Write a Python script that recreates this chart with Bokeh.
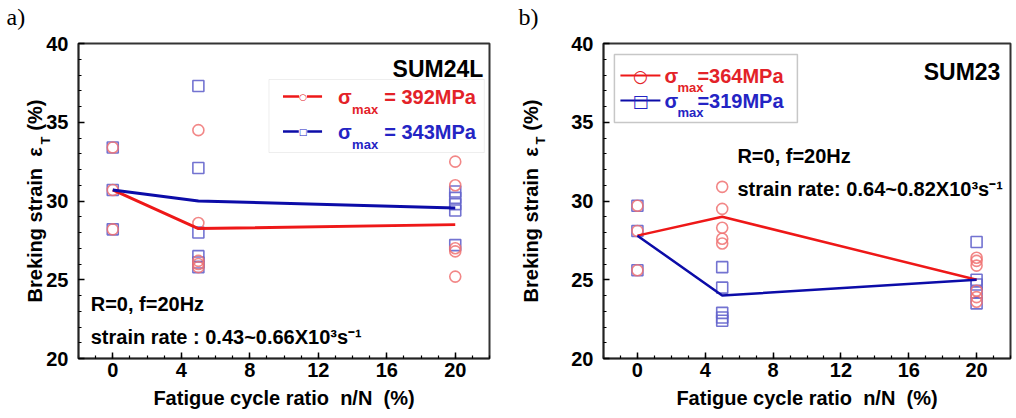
import math
from bokeh.plotting import figure
from bokeh.models import Label, BoxAnnotation, Arrow, Range1d, FixedTicker
from bokeh.layouts import row
from bokeh.embed import file_html
from bokeh.resources import INLINE

# ---------------- data ----------------
x_ticks = [0, 4, 8, 12, 16, 20]
y_ticks = [20, 25, 30, 35, 40]

# panel a) SUM24L
a_red_x = [0, 0, 0, 5, 5, 5, 5, 5, 20, 20, 20, 20, 20]
a_red_y = [33.4, 30.7, 28.2, 34.5, 28.6, 26.2, 26.0, 25.8, 32.5, 31.0, 27.0, 26.8, 25.2]
a_blue_x = [0, 0, 0, 5, 5, 5, 5, 5, 5, 20, 20, 20, 20, 20]
a_blue_y = [33.4, 30.7, 28.2, 37.3, 32.1, 28.0, 26.5, 26.1, 25.8, 30.6, 30.2, 29.8, 29.4, 27.2]
a_mean_x = [0, 5, 20]
a_red_mean = [30.7, 28.25, 28.5]
a_blue_mean = [30.7, 30.0, 29.55]

# panel b) SUM23
b_red_x = [0, 0, 0, 5, 5, 5, 5, 5, 20, 20, 20, 20, 20, 20]
b_red_y = [29.7, 28.1, 25.6, 30.9, 29.5, 28.3, 27.6, 27.3, 26.4, 26.2, 25.9, 24.3, 23.9, 23.6]
b_blue_x = [0, 0, 0, 5, 5, 5, 5, 5, 20, 20, 20, 20, 20]
b_blue_y = [29.7, 28.1, 25.6, 25.8, 24.5, 22.9, 22.6, 22.4, 27.4, 25.0, 24.7, 24.2, 23.5]
b_mean_x = [0, 5, 20]
b_red_mean = [27.8, 29.0, 25.0]
b_blue_mean = [27.8, 24.0, 25.0]

FONT = "Liberation Sans"
RED_LINE = "#ee1818"
BLUE_LINE = "#0c0ca8"
RED_MK = "#f07272"
BLUE_MK = "#6464cc"
RED_TXT = "#e32228"
BLUE_TXT = "#2424c4"
NB = "\u00a0"


def make_panel(width, left, right, ylab_standoff):
    p = figure(width=width, height=418, x_range=Range1d(-2, 22), y_range=Range1d(20, 40),
               min_border_left=left, min_border_right=right, min_border_top=43,
               min_border_bottom=60, output_backend="svg", toolbar_location=None)
    p.grid.visible = False
    p.outline_line_color = "#333333"
    p.outline_line_width = 2
    p.background_fill_color = "white"
    p.border_fill_color = "white"
    p.xaxis.ticker = FixedTicker(ticks=x_ticks, minor_ticks=list(range(-2, 23)))
    p.yaxis.ticker = FixedTicker(ticks=y_ticks, minor_ticks=list(range(20, 41)))
    for ax in (p.xaxis[0], p.yaxis[0]):
        ax.axis_line_width = 1.5
        ax.axis_line_color = "#222222"
        ax.major_tick_in = 6
        ax.major_tick_out = 0
        ax.minor_tick_in = 3
        ax.minor_tick_out = 0
        ax.major_tick_line_width = 1.5
        ax.minor_tick_line_width = 1.2
        ax.major_label_text_font = FONT
        ax.major_label_text_font_size = "20px"
        ax.major_label_text_font_style = "bold"
        ax.major_label_text_color = "black"
        ax.axis_label_text_font = FONT
        ax.axis_label_text_font_size = "20px"
        ax.axis_label_text_font_style = "bold"
        ax.axis_label_text_color = "black"
    p.yaxis.major_label_standoff = 10
    p.xaxis.major_label_standoff = 4
    p.xaxis.axis_label = f"Fatigue cycle ratio{NB}{NB}n/N{NB}{NB}(%)"
    p.xaxis.axis_label_standoff = 7
    p.yaxis.axis_label = f"Breking strain{NB}{NB}\u03b5{NB}{NB}{NB}(%)"
    p.yaxis.axis_label_standoff = ylab_standoff
    return p


def lab(p, x, y, text, size=20, color="black", align="left", baseline="middle",
        angle=0.0, font=FONT, style="bold", bg=None, units="data", place=None):
    kw = {}
    if bg is not None:
        kw["background_fill_color"] = bg
    lb = Label(x=x, y=y, x_units=units, y_units=units, text=text, text_font=font,
               text_font_size=f"{size}px", text_font_style=style, text_color=color,
               text_align=align, text_baseline=baseline, angle=angle, **kw)
    if place is None:
        p.add_layout(lb)
    else:
        p.add_layout(lb, place)


FRAME_TOP = 43


def outside(p, frame_left, px, py, text, **kw):
    # label placed in the (empty) panel above the frame: screen offsets from frame top-left
    lab(p, px - frame_left, FRAME_TOP - py, text, units="screen", place="above", **kw)


def draw_data(p, rx, ry, bx, by, mx, rm, bm, lw):
    p.scatter(bx, by, marker="square", size=11, fill_color=None, line_color=BLUE_MK,
              line_width=1.6, line_alpha=0.9)
    p.scatter(rx, ry, marker="circle", size=11, fill_color=None, line_color=RED_MK,
              line_width=1.6, line_alpha=0.85)
    p.line(mx, rm, line_color=RED_LINE, line_width=lw)
    p.line(mx, bm, line_color=BLUE_LINE, line_width=lw)


# ---------------- panel a ----------------
A_LEFT = 78
pa = make_panel(500, A_LEFT, 11, -3)
apx = lambda px: (px - 113.0) / 17.1
apy = lambda py: 40 - (py - 43.0) / 15.75

draw_data(pa, a_red_x, a_red_y, a_blue_x, a_blue_y, a_mean_x, a_red_mean, a_blue_mean, 3)

outside(pa, A_LEFT, 6, 16, "a)", size=24, font="Liberation Serif", style="normal")
# subscript T of the y-axis label (side panel, data units -> not clipped to the frame)
lab(pa, apx(46), apy(140), "T", size=13, angle=math.pi / 2, align="center", place="left")
lab(pa, apx(483), apy(68), "SUM24L", size=23, align="right")
pa.add_layout(BoxAnnotation(left=apx(269), right=apx(484), top=apy(79), bottom=apy(152),
                            fill_color="white", fill_alpha=1, line_color="#c8c8c8",
                            line_width=1))
for (ry, col, lcol, mk, txt) in [(96, RED_TXT, RED_LINE, "\u25cb", "= 392MPa"),
                                 (131, BLUE_TXT, BLUE_LINE, "\u25a1", "= 343MPa")]:
    pa.add_layout(Arrow(end=None, x_start=apx(283), y_start=apy(ry), x_end=apx(322),
                        y_end=apy(ry), line_color=lcol, line_width=2.5))
    lab(pa, apx(303), apy(ry), mk, size=9, color=col, align="center", font="DejaVu Sans",
        style="normal", bg="white")
    lab(pa, apx(338), apy(ry), "\u03c3", size=20, color=col)
    lab(pa, apx(352), apy(ry + 13), "max", size=13, color=col)
    lab(pa, apx(384), apy(ry), txt, size=20, color=col)

lab(pa, apx(91), apy(303), "R=0, f=20Hz", size=20)
lab(pa, apx(91), apy(336), "strain rate : 0.43~0.66X10\u00b3s\u207b\u00b9", size=20)

# ---------------- panel b ----------------
B_LEFT = 103
pb = make_panel(516, B_LEFT, 6, 26)
bpx = lambda px: (px - 637.0) / 16.96
bpy = lambda py: 40 - (py - 43.0) / 15.75

draw_data(pb, b_red_x, b_red_y, b_blue_x, b_blue_y, b_mean_x, b_red_mean, b_blue_mean, 2.5)

outside(pb, B_LEFT, 18, 16, "b)", size=24, font="Liberation Serif", style="normal")
lab(pb, bpx(540), bpy(140), "T", size=13, angle=math.pi / 2, align="center", place="left")
lab(pb, bpx(1000), bpy(71), "SUM23", size=23, align="right")
pb.add_layout(BoxAnnotation(left=bpx(614), right=bpx(797), top=bpy(54), bottom=bpy(122),
                            fill_color="white", fill_alpha=1, line_color="#444444",
                            line_width=1.5))
for (ry, col, lcol, mk, txt) in [(75, RED_TXT, RED_LINE, "\u25cb", "=364MPa"),
                                 (100, BLUE_TXT, BLUE_LINE, "\u25a1", "=319MPa")]:
    pb.add_layout(Arrow(end=None, x_start=bpx(620), y_start=bpy(ry), x_end=bpx(660),
                        y_end=bpy(ry), line_color=lcol, line_width=2))
    lab(pb, bpx(640), bpy(ry), mk, size=17, color=col, align="center", font="DejaVu Sans",
        style="normal")
    lab(pb, bpx(664), bpy(ry), "\u03c3", size=20, color=col)
    lab(pb, bpx(677), bpy(ry + 12), "max", size=13, color=col)
    lab(pb, bpx(697), bpy(ry), txt, size=20, color=col)

lab(pb, bpx(737), bpy(155), "R=0, f=20Hz", size=20)
lab(pb, bpx(737), bpy(188), "strain rate: 0.64~0.82X10\u00b3s\u207b\u00b9", size=20)

layout = row(pa, pb)
open("out.html", "w").write(file_html(layout, INLINE))
